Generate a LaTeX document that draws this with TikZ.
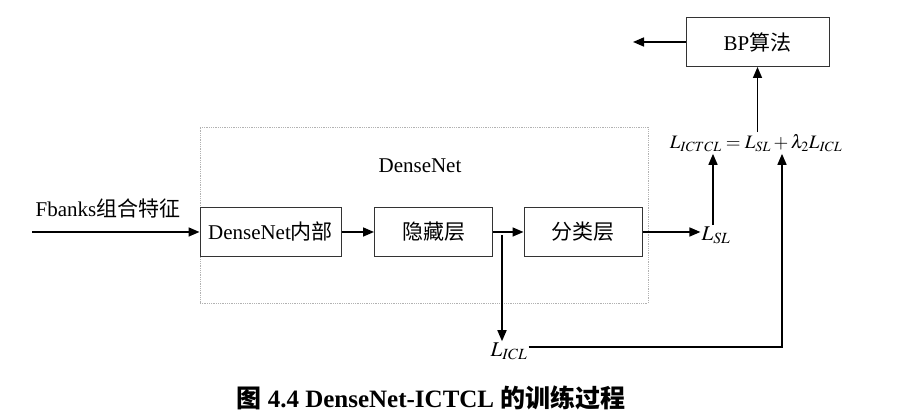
\documentclass[tikz,border=0pt]{standalone}
\usepackage{mathptmx}
\usepackage{fontspec}
\setmainfont{Liberation Serif}
\newfontfamily\cjk{Noto Sans CJK SC}
\usetikzlibrary{arrows.meta}

\begin{document}
\begin{tikzpicture}[x=1pt,y=1pt,
    font=\fontsize{21}{24}\selectfont,
    block/.style={draw=black!80,line width=1pt,minimum height=49pt,inner sep=0pt},
    flow/.style={-{Triangle[length=11pt,width=9pt]},line width=1.6pt}]
    \useasboundingbox (0,0) rectangle (908,419);
    % DenseNet training
    \node[draw=black!30,densely dotted,line width=0.8pt,minimum width=448pt,minimum height=176pt,inner sep=0pt] (DenseNet) at (424,204) {};
    \node (DenseNetLabel) at (420,253) {DenseNet};
    \node[block,minimum width=141pt] (Inner) at (270.5,187) {DenseNet{\cjk 内部}};
    \node[block,minimum width=118pt] (Hidden) at (433.5,187) {\cjk 隐藏层};
    \node[block,minimum width=118pt] (Classify) at (583,187) {\cjk 分类层};
    \node[block,minimum width=143pt] (BP) at (757.5,377) {BP{\cjk 算法}};
    \node (Fbanks) at (108,211) {Fbanks{\cjk 组合特征}};
    \node[inner sep=1pt] (LSL) at (716,184) {$L_{SL}$};
    \node[inner sep=1pt] (LICL) at (509,68) {$L_{ICL}$};
    \node[inner sep=2pt,font=\fontsize{19}{22}\selectfont] (Loss) at (756,276) {$L_{ICTCL}=L_{SL}+\lambda_2 L_{ICL}$};
    \coordinate (In) at (32,187);
    \coordinate (Out) at (633,377);
    \coordinate (Split) at (502,184);
    \coordinate (Corner) at (782,72);

    \draw[flow] (In) to (Inner);
    \draw[flow] (Inner) to (Hidden);
    \draw[flow] (Hidden) to (Classify);
    \draw[flow] (Classify) to (Classify -| LSL.west);
    \draw[flow] (Split) to (LICL.north -| Split);
    \draw[flow] (LSL.north -| 713,0) to (Loss.south -| 713,0);
    \draw[flow] (LICL.east |- Corner) -- (Corner) to (Corner |- Loss.south);
    \draw[flow] (Loss.north -| BP) to (BP);
    \draw[flow] (BP) to (Out);
    \node at (431,21) {\fontsize{25}{29}\selectfont\bfseries{\cjk 图} 4.4 DenseNet-ICTCL {\cjk 的训练过程}};
\end{tikzpicture}
\end{document}
